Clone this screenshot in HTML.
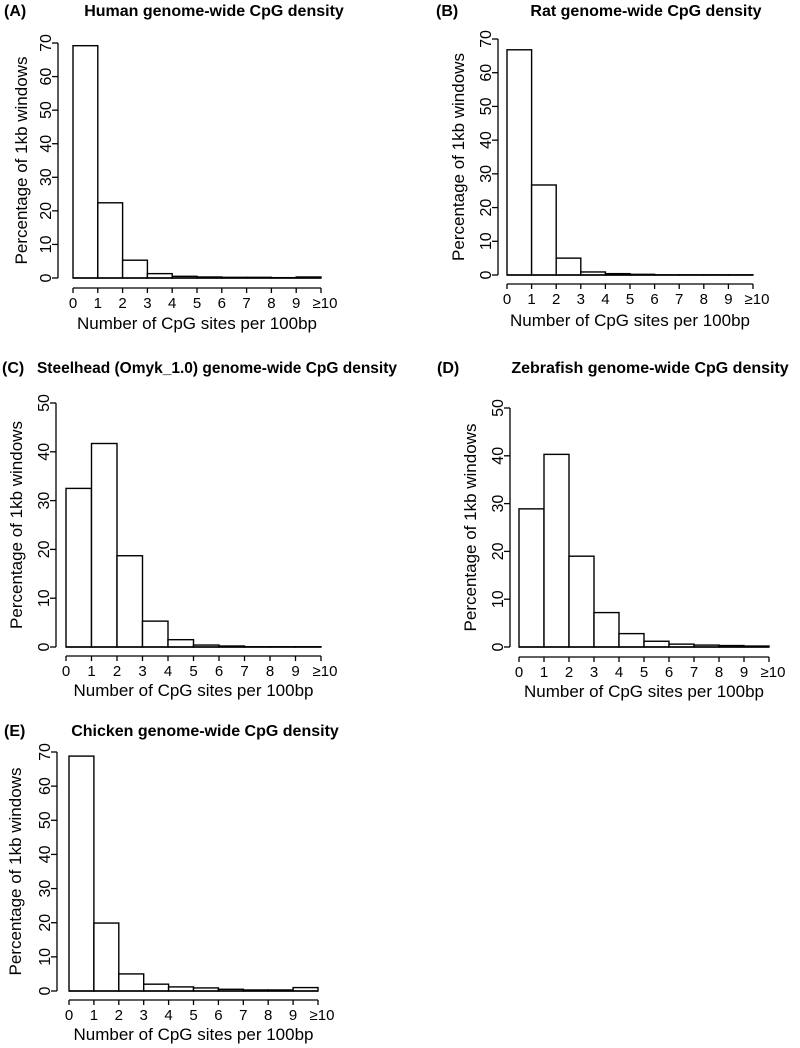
<!DOCTYPE html>
<html><head><meta charset="utf-8"><style>
body{margin:0;background:#fff;}
svg{display:block;font-family:"Liberation Sans",Arial,sans-serif;}
</style></head><body>
<svg id="fig" width="800" height="1048" viewBox="0 0 800 1048"></svg>
<script>
const categories = ["0","1","2","3","4","5","6","7","8","9","≥10"];
const humanValues = [69.2, 22.4, 5.3, 1.3, 0.5, 0.3, 0.2, 0.2, 0.1, 0.3];
const ratValues = [66.8, 26.7, 5.0, 0.9, 0.4, 0.2, 0.05, 0.05, 0.05, 0.05];
const steelheadValues = [32.5, 41.7, 18.7, 5.3, 1.5, 0.4, 0.2, 0.05, 0.05, 0.05];
const zebrafishValues = [28.9, 40.3, 19.0, 7.2, 2.8, 1.2, 0.6, 0.4, 0.3, 0.2];
const chickenValues = [68.8, 19.9, 5.0, 2.0, 1.2, 0.9, 0.5, 0.3, 0.3, 1.0];
const ticks70 = [0,10,20,30,40,50,60,70];
const ticks50 = [0,10,20,30,40,50];

const NS = "http://www.w3.org/2000/svg";
const svg = document.getElementById("fig");
function mk(tag, attrs, parent){
  const e = document.createElementNS(NS, tag);
  for (const k in attrs) e.setAttribute(k, attrs[k]);
  (parent||svg).appendChild(e);
  return e;
}
const panels = [
  {id:"a", label:"(A)", lx:4, ly:16, title:"Human genome-wide CpG density", tx:214, tfs:16, vals:humanValues, ticks:ticks70, ymax:70, x0:73, x1:321, y0:278, yTop:43, yAxisX:58, xAxisY:288, yTitleX:21, xTitleY:329},
  {id:"b", label:"(B)", lx:436, ly:16, title:"Rat genome-wide CpG density", tx:646, tfs:16, vals:ratValues, ticks:ticks70, ymax:70, x0:507, x1:753, y0:275, yTop:39, yAxisX:498, xAxisY:284, yTitleX:458, xTitleY:326},
  {id:"c", label:"(C)", lx:2, ly:373, title:"Steelhead (Omyk_1.0) genome-wide CpG density", tx:217, tfs:15.5, vals:steelheadValues, ticks:ticks50, ymax:50, x0:66, x1:321, y0:647, yTop:403, yAxisX:56, xAxisY:656, yTitleX:16, xTitleY:696},
  {id:"d", label:"(D)", lx:437, ly:373, title:"Zebrafish genome-wide CpG density", tx:650, tfs:16, vals:zebrafishValues, ticks:ticks50, ymax:50, x0:519, x1:769, y0:647, yTop:408, yAxisX:510, xAxisY:657, yTitleX:470, xTitleY:697},
  {id:"e", label:"(E)", lx:4, ly:736, title:"Chicken genome-wide CpG density", tx:205, tfs:16, vals:chickenValues, ticks:ticks70, ymax:70, x0:69, x1:318, y0:991, yTop:752, yAxisX:57, xAxisY:1000, yTitleX:15, xTitleY:1040}
];
panels.forEach(p=>{
  const g = mk("g",{});
  
  
  const xs = v => p.x0 + (p.x1 - p.x0) * v / 10;
  const ys = v => p.y0 - (p.y0 - p.yTop) * v / p.ymax;
  const lab = mk("text",{x:p.lx,y:p.ly,"font-size":"16","font-weight":"bold"},g);
  lab.textContent = p.label;
  
  
  const t = mk("text",{x:p.tx,y:p.ly,"font-size":p.tfs,"font-weight":"bold","text-anchor":"middle"},g);
  t.textContent = p.title;
  
  
  p.vals.forEach((v,i)=>{
    const r = mk("rect",{x:xs(i),y:ys(v),width:xs(i+1)-xs(i),height:p.y0-ys(v),fill:"#fff",stroke:"#000","stroke-width":"1.4"},g);
    
    
  });
  mk("line",{x1:p.x0,x2:p.x1,y1:p.y0,y2:p.y0,stroke:"#000","stroke-width":"1.4"},g);
  const ya = mk("g",{},g);
  
  
  mk("line",{x1:p.yAxisX,x2:p.yAxisX,y1:ys(0),y2:ys(p.ymax),stroke:"#000","stroke-width":"1.3"},ya);
  p.ticks.forEach(tv=>{
    mk("line",{x1:p.yAxisX-6,x2:p.yAxisX,y1:ys(tv),y2:ys(tv),stroke:"#000","stroke-width":"1.3"},ya);
    const tl = mk("text",{x:0,y:0,"font-size":"16","text-anchor":"middle",transform:`translate(${p.yAxisX-7},${ys(tv)}) rotate(-90)`},ya);
    tl.textContent = tv;
    
    
  });
  const yt = mk("text",{x:0,y:0,"font-size":"17","text-anchor":"middle",transform:`translate(${p.yTitleX+6},${(p.y0+p.yTop)/2}) rotate(-90)`},ya);
  yt.textContent = "Percentage of 1kb windows";
  
  
  const xa = mk("g",{},g);
  
  
  mk("line",{x1:xs(0),x2:xs(10),y1:p.xAxisY,y2:p.xAxisY,stroke:"#000","stroke-width":"1.3"},xa);
  categories.forEach((c,i)=>{
    mk("line",{x1:xs(i),x2:xs(i),y1:p.xAxisY,y2:p.xAxisY+5,stroke:"#000","stroke-width":"1.3"},xa);
    const xl = mk("text",{x:xs(i)+(i===10?4:0),y:p.xAxisY+20,"font-size":"15","text-anchor":"middle"},xa);
    xl.textContent = c;
    
    
  });
  const xt = mk("text",{x:(p.x0+p.x1)/2,y:p.xTitleY,"font-size":"17","text-anchor":"middle"},xa);
  xt.textContent = "Number of CpG sites per 100bp";
  
  
});
</script>
</body></html>
